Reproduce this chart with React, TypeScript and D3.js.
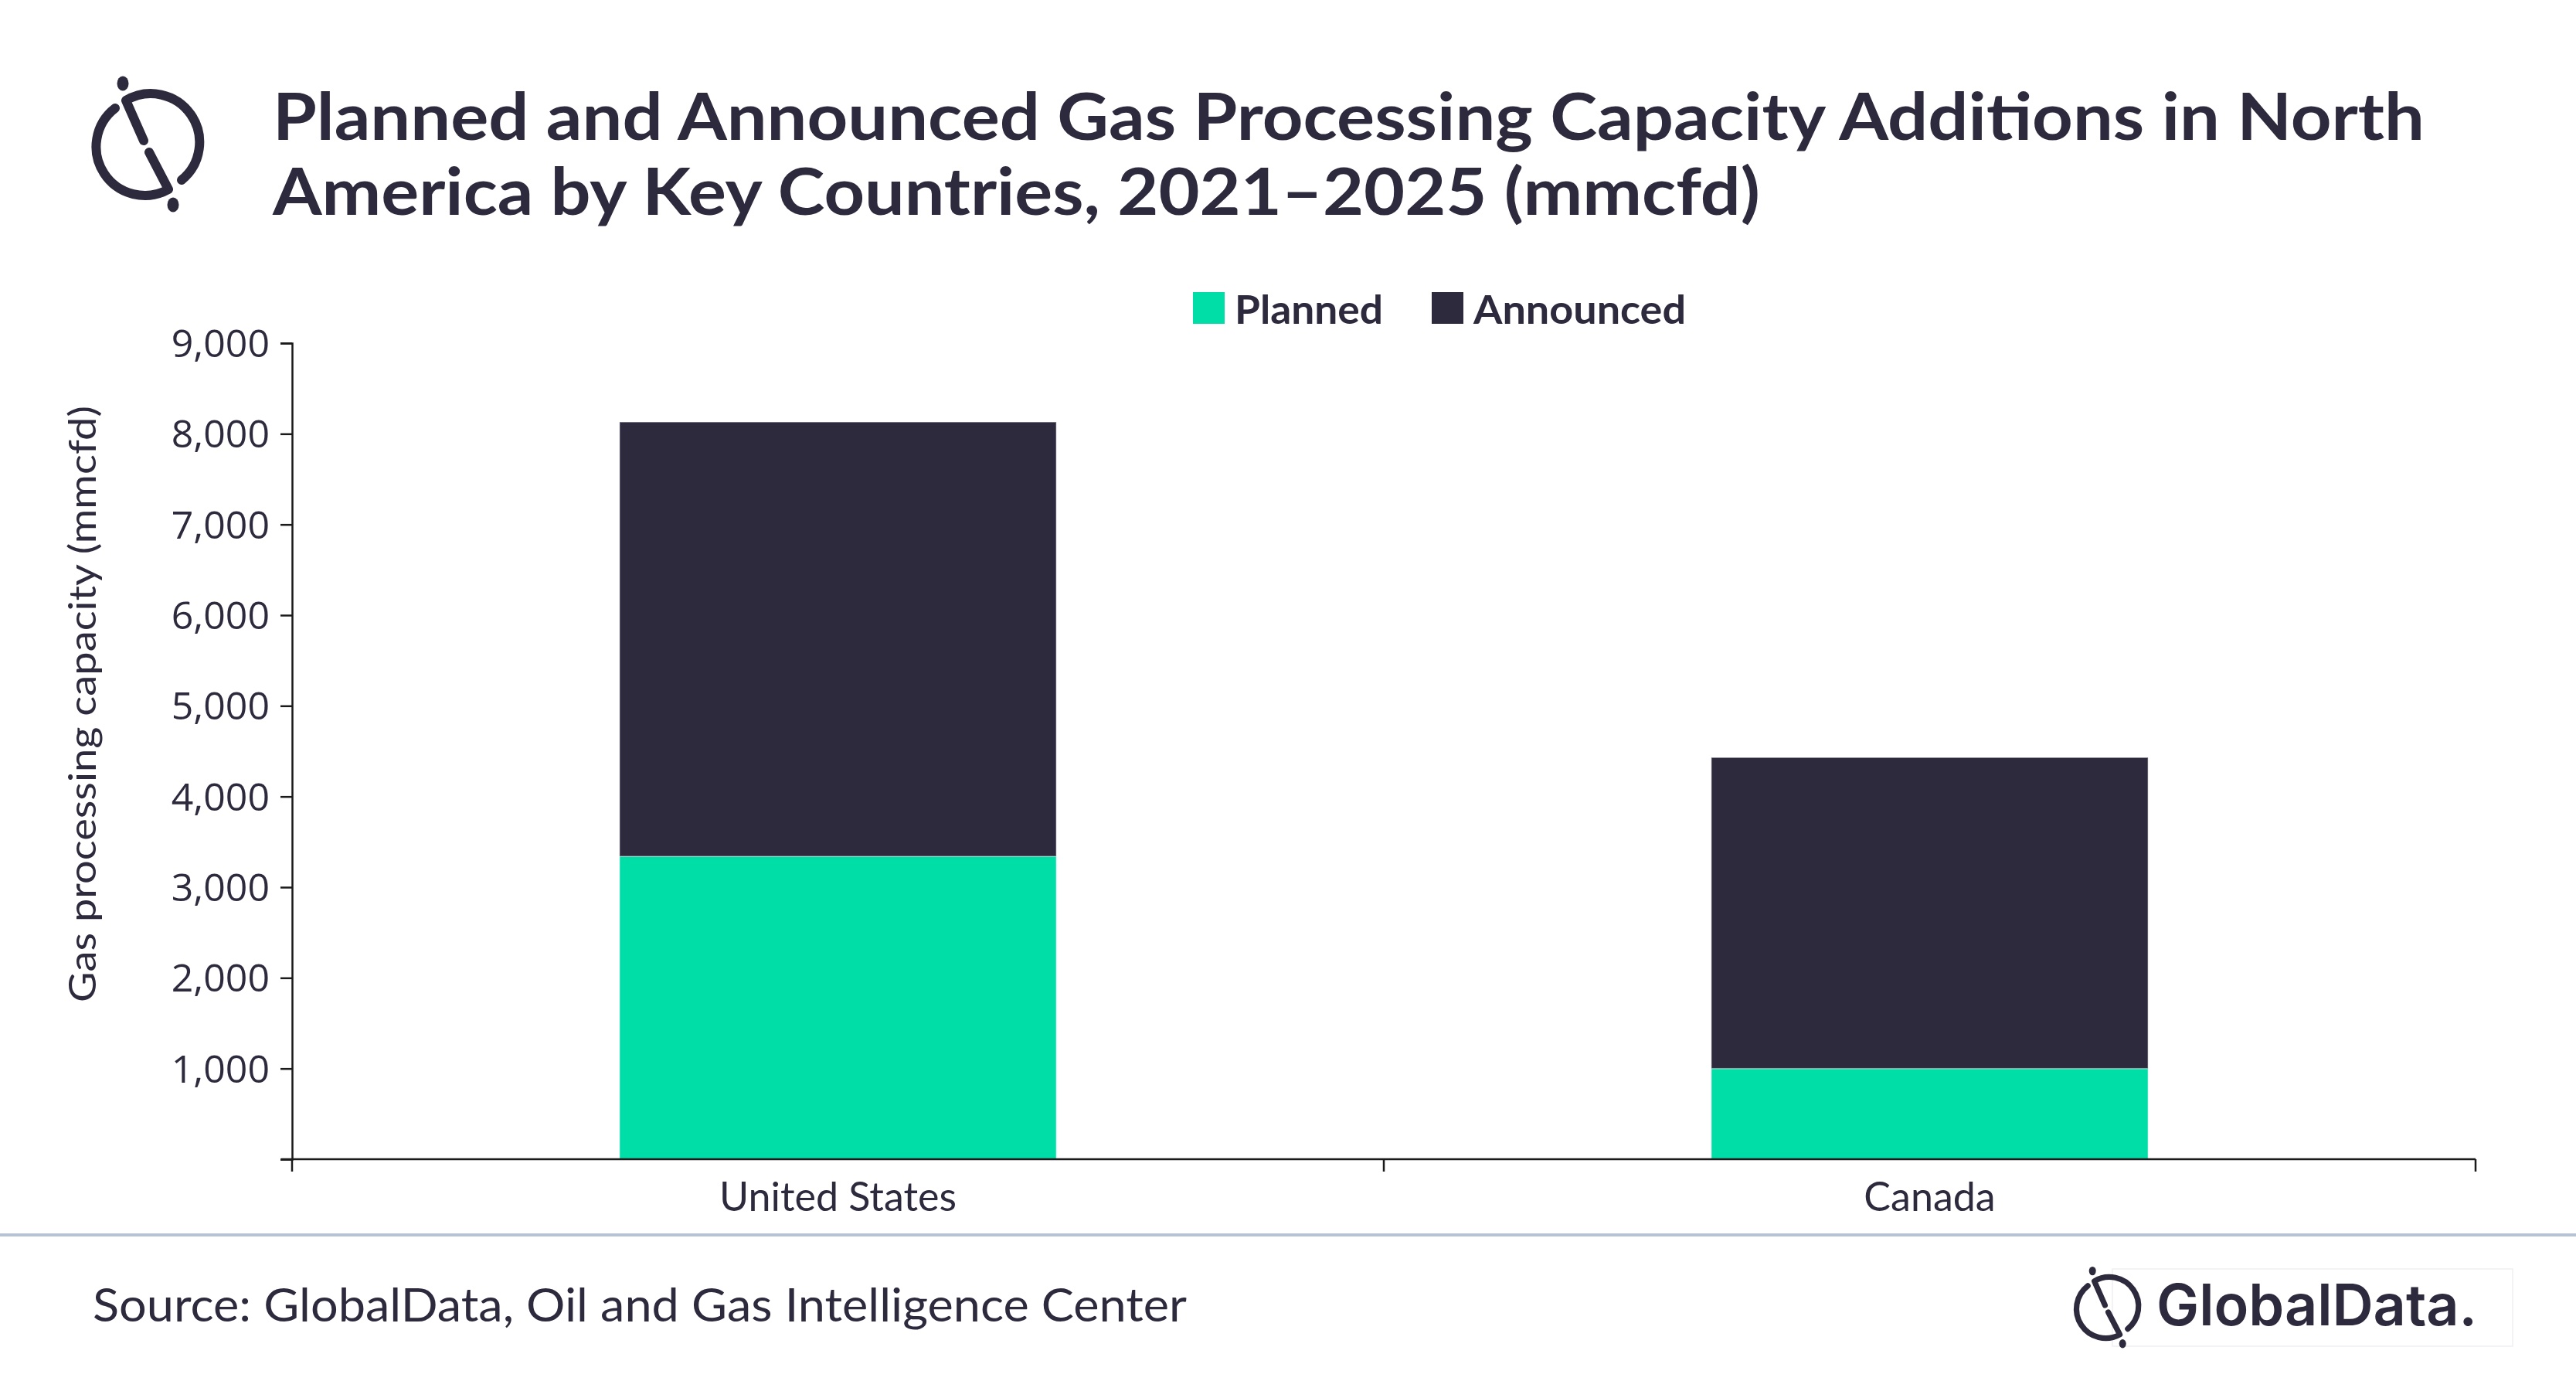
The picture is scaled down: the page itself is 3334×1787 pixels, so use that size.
import React, { useEffect, useRef } from "react";
import * as d3 from "d3";

const countries = ["United States", "Canada"];
const plannedValues = [3340, 1000];
const announcedValues = [4790, 3430];
const seriesNames = ["Planned", "Announced"];
const seriesColors = ["#00DEA7", "#2E2A3E"];
const yTickValues = [1000, 2000, 3000, 4000, 5000, 6000, 7000, 8000, 9000];
const titleLines = [
  "Planned and Announced Gas Processing Capacity Additions in North",
  "America by Key Countries, 2021\u20132025 (mmcfd)",
];
const yAxisTitle = "Gas processing capacity (mmcfd)";
const sourceText = "Source: GlobalData, Oil and Gas Intelligence Center";

const W = 3334;
const H = 1787;
const TEXT = "#2E2A3E";

function Logo({ x, y, s }: { x: number; y: number; s: number }) {
  return (
    <g transform={`translate(${x},${y}) scale(${s})`} fill="none" stroke={TEXT} strokeWidth={12} strokeLinecap="round" strokeLinejoin="round">
      <path d="M -6 -5 L -29 -57 A 63 63 0 0 1 43 46" />
      <path d="M 1 10 L 26 58 A 63 63 0 0 1 -43 -47" />
      <ellipse cx={-33} cy={-79} rx={7.5} ry={9.5} fill={TEXT} stroke="none" />
      <ellipse cx={32} cy={78} rx={7.5} ry={9.5} fill={TEXT} stroke="none" />
    </g>
  );
}

export default function App() {
  const ref = useRef<SVGGElement>(null);

  const x = d3.scaleBand<string>().domain(countries).range([378, 3204]).paddingInner(0.6).paddingOuter(0.3);
  const y = d3.scaleLinear().domain([0, 9000]).range([1500, 444]);

  useEffect(() => {
    if (!ref.current) return;
    const g = d3.select(ref.current);
    g.selectAll("*").remove();

    const rows = countries.map((c, i) => ({ country: c, Planned: plannedValues[i], Announced: announcedValues[i] }));
    const stack = d3.stack<any>().keys(seriesNames)(rows);

    stack.forEach((layer, li) => {
      g.append("g")
        .selectAll("rect")
        .data(layer)
        .join("rect")
        .attr("x", (d: any) => x(d.data.country)!)
        .attr("width", x.bandwidth())
        .attr("y", (d: any) => y(d[1]))
        .attr("height", (d: any) => y(d[0]) - y(d[1]))
        .attr("fill", seriesColors[li])
        .attr("stroke", "rgba(255,255,255,0.35)")
        .attr("stroke-width", 1.5);
    });

    const yAxis = d3.axisLeft(y).tickValues([0, ...yTickValues]).tickSize(15).tickPadding(14)
      .tickFormat((d: any) => (d === 0 ? "" : d3.format(",")(d)));
    const ya = g.append("g").attr("transform", "translate(378,0)").call(yAxis);
    ya.select(".domain").attr("stroke", "#1a1a1a").attr("stroke-width", 2.5);
    ya.selectAll(".tick line").attr("stroke", "#1a1a1a").attr("stroke-width", 2.5);
    ya.selectAll(".tick text")
      .attr("fill", TEXT)
      .attr("font-family", "'Open Sans', sans-serif")
      .attr("font-size", 50)
      .attr("dy", "0.35em");

    const xa = g.append("g");
    xa.append("line").attr("x1", 364).attr("x2", 3204).attr("y1", 1500).attr("y2", 1500)
      .attr("stroke", "#1a1a1a").attr("stroke-width", 2.5);
    const step = x.step();
    const boundaries = [0, 1, 2].map((i) => (x.range()[0] as number) + i * step);
    xa.selectAll("line.tk").data(boundaries).join("line").attr("class", "tk")
      .attr("x1", (d) => d).attr("x2", (d) => d).attr("y1", 1500).attr("y2", 1516)
      .attr("stroke", "#1a1a1a").attr("stroke-width", 2.5);
    xa.selectAll("text").data(countries).join("text")
      .attr("x", (d) => x(d)! + x.bandwidth() / 2)
      .attr("y", 1567)
      .attr("text-anchor", "middle")
      .attr("fill", TEXT)
      .attr("font-family", "Lato, sans-serif")
      .attr("font-size", 52)
      .text((d) => d);
  }, []);

  return (
    <svg width={W} height={H} viewBox={`0 0 ${W} ${H}`} style={{ position: "absolute", left: 0, top: 0, display: "block", background: "#fff" }}>
      <rect x={0} y={0} width={W} height={H} fill="#fff" />
      <Logo x={192} y={187} s={1} />
      {titleLines.map((t, i) => (
        <text key={i} x={353} y={181 + i * 97} fill={TEXT} fontFamily="Lato, sans-serif" fontWeight={700} fontSize={85}
          textLength={i === 0 ? 2785 : 1925} lengthAdjust="spacingAndGlyphs">{t}</text>
      ))}

      <g fontFamily="Lato, sans-serif" fontWeight={700} fontSize={52} fill={TEXT}>
        <rect x={1544} y={378} width={41} height={41} fill={seriesColors[0]} />
        <text x={1598} y={419} textLength={192} lengthAdjust="spacingAndGlyphs">{seriesNames[0]}</text>
        <rect x={1853} y={378} width={41} height={41} fill={seriesColors[1]} />
        <text x={1907} y={419} textLength={275} lengthAdjust="spacingAndGlyphs">{seriesNames[1]}</text>
      </g>

      <text transform="translate(124,911) rotate(-90)" textAnchor="middle" fill={TEXT} fontFamily="Lato, sans-serif" fontSize={48}
        textLength={772} lengthAdjust="spacingAndGlyphs">{yAxisTitle}</text>

      <g ref={ref} />

      <rect x={0} y={1596} width={W} height={4} fill="#B7C2D3" />
      <text x={120} y={1710} fill={TEXT} fontFamily="Lato, sans-serif" fontSize={60} textLength={1416} lengthAdjust="spacingAndGlyphs">{sourceText}</text>

      <rect x={2734} y={1642} width={518} height={100} fill="none" stroke="#F0F0F4" strokeWidth={1.5} />
      <Logo x={2728} y={1692} s={0.6} />
      <text x={2791} y={1715} fill={TEXT} fontFamily="Inter, sans-serif" fontWeight={600} fontSize={74} textLength={415} lengthAdjust="spacingAndGlyphs">GlobalData.</text>
    </svg>
  );
}
